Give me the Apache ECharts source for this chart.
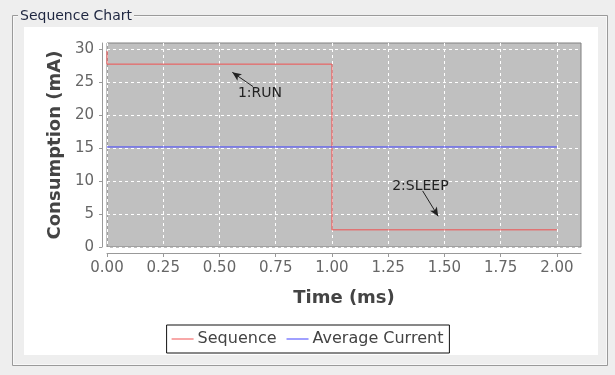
<!DOCTYPE html>
<html>
<head>
<meta charset="utf-8">
<script src="https://cdn.jsdelivr.net/npm/echarts@6/dist/echarts.min.js"></script>
<style>
html,body{margin:0;padding:0;background:#eeeeee;}
#chart{width:615px;height:375px;}
</style>
</head>
<body>
<div id="chart"></div>
<script>
// ---- data ----
var seqTime = [0, 0, 1, 1, 2];
var seqCurrent = [29.7, 27.7, 27.7, 2.6, 2.6];
var avgTime = [0, 2];
var avgCurrent = [15.15, 15.15];
var xTicks = [0, 0.25, 0.5, 0.75, 1.0, 1.25, 1.5, 1.75, 2.0];
var yTicks = [0, 5, 10, 15, 20, 25, 30];
var annLabels = ['1:RUN', '2:SLEEP'];
var annTextPos = [[0.68, 23.3], [1.393, 9.2]];
var annArrowFrom = [[0.649, 24.3], [1.403, 8.5]];
var annArrowTo = [[0.557, 26.46], [1.472, 4.66]];

var FONT = 'DejaVu Sans';

function pairs(xs, ys) { return xs.map(function (x, i) { return [x, ys[i]]; }); }

var arrowLines = annArrowFrom.map(function (f, i) {
  return [{coord: f, symbol: 'none'}, {coord: annArrowTo[i], symbol: 'arrow', symbolSize: [6, 9]}];
});
var annPoints = annLabels.map(function (t, i) {
  return {coord: annTextPos[i], value: t};
});

var chart = echarts.init(document.getElementById('chart'), null, {renderer: 'canvas'});
chart.setOption({
  animation: false,
  backgroundColor: '#eeeeee',
  textStyle: {fontFamily: FONT},
  graphic: {
    elements: [
      {type: 'rect', z: -100, shape: {x: 24, y: 27, width: 574, height: 328}, style: {fill: '#ffffff'}, silent: true},
      {type: 'rect', z: -100, shape: {x: 12.5, y: 15.5, width: 595, height: 350}, style: {fill: 'none', stroke: '#9a9a9a', lineWidth: 1}, silent: true},
      {type: 'rect', z: -100, shape: {x: 13.5, y: 16.5, width: 593, height: 348}, style: {fill: 'none', stroke: '#f8f8f8', lineWidth: 1}, silent: true}
    ]
  },
  title: {
    text: 'Sequence Chart',
    left: 18, top: 9,
    padding: [0, 2],
    backgroundColor: '#eeeeee',
    textStyle: {fontFamily: FONT, fontSize: 14, fontWeight: 'normal', color: '#1e2640'}
  },
  legend: {
    bottom: 22,
    left: 'center',
    borderColor: '#111111',
    borderWidth: 1,
    padding: [6, 6, 6, 5],
    itemGap: 10,
    itemWidth: 22,
    itemHeight: 1,
    icon: 'rect',
    textStyle: {fontFamily: FONT, fontSize: 16, color: '#444444', padding: [0, 0, 0, -1]},
    data: ['Sequence', 'Average Current']
  },
  grid: {
    left: 107, right: 34, top: 43, bottom: 128,
    show: true,
    backgroundColor: '#c0c0c0',
    borderColor: '#808080',
    borderWidth: 1
  },
  xAxis: {
    type: 'value',
    min: 0, max: 2.107,
    offset: 6,
    name: 'Time (ms)',
    nameLocation: 'middle',
    nameGap: 36,
    nameTextStyle: {fontFamily: FONT, fontSize: 18, fontWeight: 'bold', color: '#444444'},
    axisLine: {show: true, onZero: false, lineStyle: {color: '#999999', width: 1}},
    axisTick: {show: true, length: 4, inside: false, customValues: xTicks, lineStyle: {color: '#999999'}},
    axisLabel: {customValues: xTicks, margin: 8, fontFamily: FONT, fontSize: 15, color: '#666666',
      formatter: function (v) { return v.toFixed(2); }},
    splitLine: {show: true, lineStyle: {color: '#ffffff', type: [3, 3], width: 1}}
  },
  yAxis: {
    type: 'value',
    min: 0, max: 30.9,
    offset: 5,
    name: 'Consumption (mA)',
    nameLocation: 'middle',
    nameGap: 36,
    nameTextStyle: {fontFamily: FONT, fontSize: 18, fontWeight: 'bold', color: '#444444'},
    axisLine: {show: true, onZero: false, lineStyle: {color: '#999999', width: 1}},
    axisTick: {show: true, length: 3, customValues: yTicks, lineStyle: {color: '#999999'}},
    axisLabel: {customValues: yTicks, margin: 8, fontFamily: FONT, fontSize: 15, color: '#666666'},
    splitLine: {show: true, lineStyle: {color: '#ffffff', type: [3, 3], width: 1}}
  },
  series: [
    {
      name: 'Sequence',
      type: 'line',
      data: pairs(seqTime, seqCurrent),
      showSymbol: false,
      symbol: 'none',
      color: '#f05050',
      lineStyle: {color: '#f05050', width: 1},
      markLine: {
        silent: true,
        symbol: ['none', 'arrow'],
        lineStyle: {color: '#222222', width: 1, type: 'solid'},
        label: {show: false},
        emphasis: {disabled: true},
        data: arrowLines
      },
      markPoint: {
        silent: true,
        symbol: 'circle',
        symbolSize: 0,
        label: {show: true, position: 'inside', formatter: '{c}', fontFamily: FONT, fontSize: 14, color: '#222222'},
        data: annPoints
      }
    },
    {
      name: 'Average Current',
      type: 'line',
      data: pairs(avgTime, avgCurrent),
      showSymbol: false,
      symbol: 'none',
      color: '#4040ff',
      lineStyle: {color: '#4040ff', width: 1}
    }
  ]
});
</script>
</body>
</html>
